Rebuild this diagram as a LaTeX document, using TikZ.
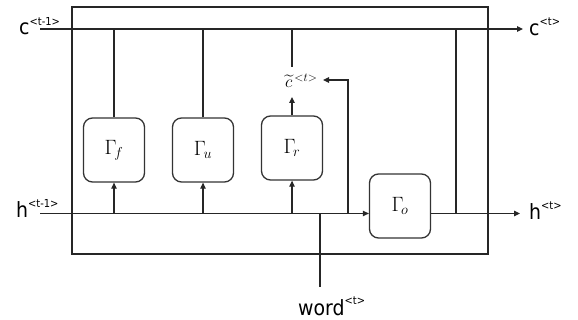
\documentclass[tikz,border=0pt]{standalone}
\usepackage{fontspec}
\usepackage{amsmath}
\newfontfamily\labelfont{DejaVu Sans Condensed}
\usetikzlibrary{arrows.meta}
\tikzset{
  wire/.style={line width=1.2pt, draw=black!85},
  flow/.style={wire, -{Triangle[length=6pt,width=5.5pt]}},
  gate/.style={draw=black!80, line width=1.3pt, rounded corners=9pt, minimum width=61pt, minimum height=64pt, inner sep=0pt, font=\huge},
  io/.style={inner sep=0pt, anchor=base west, font=\labelfont\fontsize{21}{24}\selectfont},
}
\newcommand{\supl}[2]{{\fontsize{11}{11}\selectfont\raisebox{#1}{#2}}}
\begin{document}
\begin{tikzpicture}[x=1pt, y=-1pt]
  \useasboundingbox (0,0) rectangle (578,320);
  % cell boundary
  \draw[line width=2pt, draw=black!85] (72,7) rectangle (488,254);

  % gates
  \node[gate] (gf) at (114,150) {$\Gamma_{\!f}$};
  \node[gate] (gu) at (203,150) {$\Gamma_{\!u}$};
  \node[gate] (gr) at (292,148) {$\Gamma_{\!r}$};
  \node[gate] (go) at (400,206) {$\Gamma_{\!o}$};

  % candidate memory label
  \node[inner sep=0pt, anchor=base west, font=\LARGE] (ct) at (285,88)
    {$\widetilde{c}^{\,\mathord{<}t\mathord{>}}$};

  % input / output labels
  \node[io] (cin)  at (19,35)  {c\supl{9pt}{<t-1>}};
  \node[io] (hin)  at (16,218) {h\supl{10pt}{<t-1>}};
  \node[io] (cout) at (529,36) {c\supl{10pt}{<t>}};
  \node[io] (hout) at (529,220){h\supl{10pt}{<t>}};
  \node[io] (wd)   at (298,315){word\supl{10pt}{<t>}};

  % junction points
  \coordinate (cl0) at (40,29);
  \coordinate (cl1) at (523,29);
  \coordinate (hl0) at (40,213.5);
  \coordinate (hl1) at (520,213.5);
  \coordinate (fb)  at (348,213.5);
  \coordinate (wj)  at (320,213.5);
  \coordinate (wb)  at (320,287);
  \coordinate (rj)  at (456,213.5);

  % memory line
  \draw[flow] (cl0) -- (cl1);
  \draw[wire] (gf.north) -- (gf.north |- cl0);
  \draw[wire] (gu.north) -- (gu.north |- cl0);
  \draw[wire] (gr.north |- cl0) -- (292,67);
  \draw[flow] (gr.north) -- (292,97);
  \draw[wire] (rj) -- (rj |- cl0);

  % hidden state line
  \draw[flow] (hl0) -- (hl0 -| go.west);
  \draw[flow] (gf.south |- hl0) -- (gf.south);
  \draw[flow] (gu.south |- hl0) -- (gu.south);
  \draw[flow] (gr.south |- hl0) -- (gr.south);
  \draw[flow] (fb) -- (348,80) -- (323,80);
  \draw[wire] (wb) -- (wj);
  \draw[flow] (hl1 -| go.east) -- (hl1);
\end{tikzpicture}
\end{document}
